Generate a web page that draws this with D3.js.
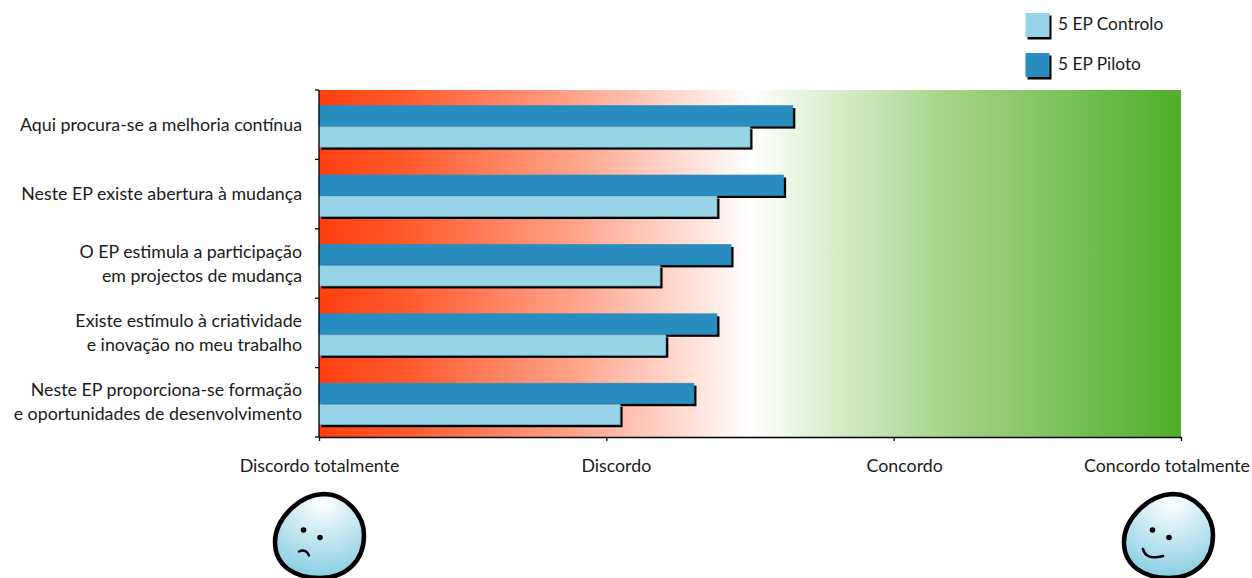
<!DOCTYPE html>
<html><head><meta charset="utf-8">
<script src="https://cdnjs.cloudflare.com/ajax/libs/d3/7.8.5/d3.min.js"></script>
<style>html,body{margin:0;background:#fff}svg{display:block}text{font-family:"Lato","Open Sans",sans-serif;fill:#1a1a1a;font-size:17.8px}text.lg{font-size:17.3px}</style>
</head><body><svg id="c" width="1252" height="578"></svg>
<script>
const categories = [
  ["Aqui procura-se a melhoria contínua"],
  ["Neste EP existe abertura à mudança"],
  ["O EP estimula a participação","em projectos de mudança"],
  ["Existe estímulo à criatividade","e inovação no meu trabalho"],
  ["Neste EP proporciona-se formação","e oportunidades de desenvolvimento"]
];
const seriesNames = ["5 EP Piloto","5 EP Controlo"];
const piloto = [2.649,2.617,2.434,2.385,2.305];
const controlo = [2.50,2.385,2.187,2.207,2.048];
const tickLabels = ["Discordo totalmente","Discordo","Concordo","Concordo totalmente"];
const tickValues = [1,2,3,4];
const tickLabelOffsets = [0.5,10,11,-14];
const colors = {"5 EP Piloto":"#2a8dbf","5 EP Controlo":"#97d4e7"};
const edges = {"5 EP Piloto":"#2a8dbf","5 EP Controlo":"#6fb0c6"};

const svg = d3.select("#c");
const x = d3.scaleLinear().domain([1,4]).range([319,1181]);
const y = d3.scaleBand().domain(d3.range(categories.length)).range([90,437]);
const inner = d3.scaleBand().domain(seriesNames).range([0,y.bandwidth()]).paddingInner(0).paddingOuter(0.65).align(0.57);
const defs = svg.append("defs");
const bg = defs.append("linearGradient").attr("id","bg");
[[0,"#ff3f0f"],[0.1,"#ff5a2c"],[0.3,"#ffa58c"],[0.5,"#ffffff"],[0.72,"#a8d68c"],[1,"#4fae2a"]]
  .forEach(s=>bg.append("stop").attr("offset",s[0]).attr("stop-color",s[1]));
const fg = defs.append("radialGradient").attr("id","face").attr("cx","0.53").attr("cy","0.1").attr("r","0.85");
[[0,"#ffffff"],[0.5,"#c6e8f1"],[1,"#8fd0e4"]].forEach(s=>fg.append("stop").attr("offset",s[0]).attr("stop-color",s[1]));

svg.append("rect").attr("x",x(1)).attr("y",90).attr("width",x(4)-x(1)).attr("height",347).attr("fill","url(#bg)");

const rows = categories.map((c,i)=>({i,vals:[[seriesNames[0],piloto[i]],[seriesNames[1],controlo[i]]]}));
const g = svg.selectAll("g.row").data(rows).join("g").attr("class","row").attr("transform",d=>`translate(0,${y(d.i)})`);
g.each(function(d){
  const s = d3.select(this);
  d.vals.forEach(([n,v])=>{
    s.append("rect").attr("x",x(1)+2.5).attr("y",inner(n)+2.5).attr("width",x(v)-x(1)).attr("height",inner.bandwidth()-0.5).attr("fill","#000");
    s.append("rect").attr("x",x(1)).attr("y",inner(n)).attr("width",x(v)-x(1)).attr("height",inner.bandwidth()-0.5)
      .attr("fill",colors[n]).attr("stroke",edges[n]).attr("stroke-width",0.6);
  });
});

const ax = svg.append("g").attr("transform","translate(0,437)")
  .call(d3.axisBottom(x).tickValues(tickValues).tickFormat("").tickSize(4).tickSizeOuter(0));
const ay = svg.append("g").attr("transform","translate(319,0)");
ay.append("path").attr("d",d3.line()([[0,90],[0,437]])).attr("stroke","#000").attr("fill","none").attr("stroke-width",1.3);
const bands = d3.range(categories.length+1).map(i=>i<categories.length?y(i):y.range()[1]);
ay.selectAll("line").data(bands).join("line").attr("x1",-4).attr("x2",0).attr("y1",d=>d).attr("y2",d=>d).attr("stroke","#000").attr("stroke-width",1.3);
ax.selectAll("path,line").attr("stroke","#000").attr("stroke-width",1.3);

svg.selectAll("text.tx").data(tickLabels).join("text").attr("class","tx")
  .attr("x",(d,i)=>x(tickValues[i])+tickLabelOffsets[i]).attr("y",472).attr("text-anchor","middle").text(d=>d);

const lab = svg.selectAll("text.cat").data(categories).join("text").attr("class","cat").attr("text-anchor","end");
lab.each(function(lines,i){
  const t = d3.select(this), cy = y(i)+y.bandwidth()/2;
  lines.forEach((l,k)=>t.append("tspan").attr("x",302)
    .attr("y",cy+6+(k-(lines.length-1)/2)*24).text(l));
});

const legend = [["5 EP Controlo",13],["5 EP Piloto",53]];
legend.forEach(([n,ly])=>{
  svg.append("rect").attr("x",1027.5).attr("y",ly+2.5).attr("width",24).attr("height",24).attr("fill","#000");
  svg.append("rect").attr("x",1025.5).attr("y",ly).attr("width",24).attr("height",24).attr("fill",colors[n]);
  svg.append("text").attr("class","lg").attr("x",1058).attr("y",ly+17).text(n);
});

const blob = "M51,2 C72,2 91,22 91,43 C91,70 72,86 47,86 C22,86 2,74 2,50 C2,28 25,3 51,2 Z";
function face(ox, mouth, mw){
  const f = svg.append("g").attr("transform",`translate(${ox},492)`);
  f.append("path").attr("d",blob).attr("fill","url(#face)").attr("stroke","#000").attr("stroke-width",4.5);
  f.append("circle").attr("cx",30.5).attr("cy",38).attr("r",2.8);
  f.append("circle").attr("cx",47).attr("cy",45.5).attr("r",2.8);
  f.append("path").attr("d",mouth).attr("fill","none").attr("stroke","#000").attr("stroke-width",mw).attr("stroke-linecap","round");
}
face(273,"M26,59.5 C30,57.5 34,58.5 36,63.5",2.4);
face(1122,"M21,57 C23,65 30,67 41,64",2.6);
</script></body></html>
